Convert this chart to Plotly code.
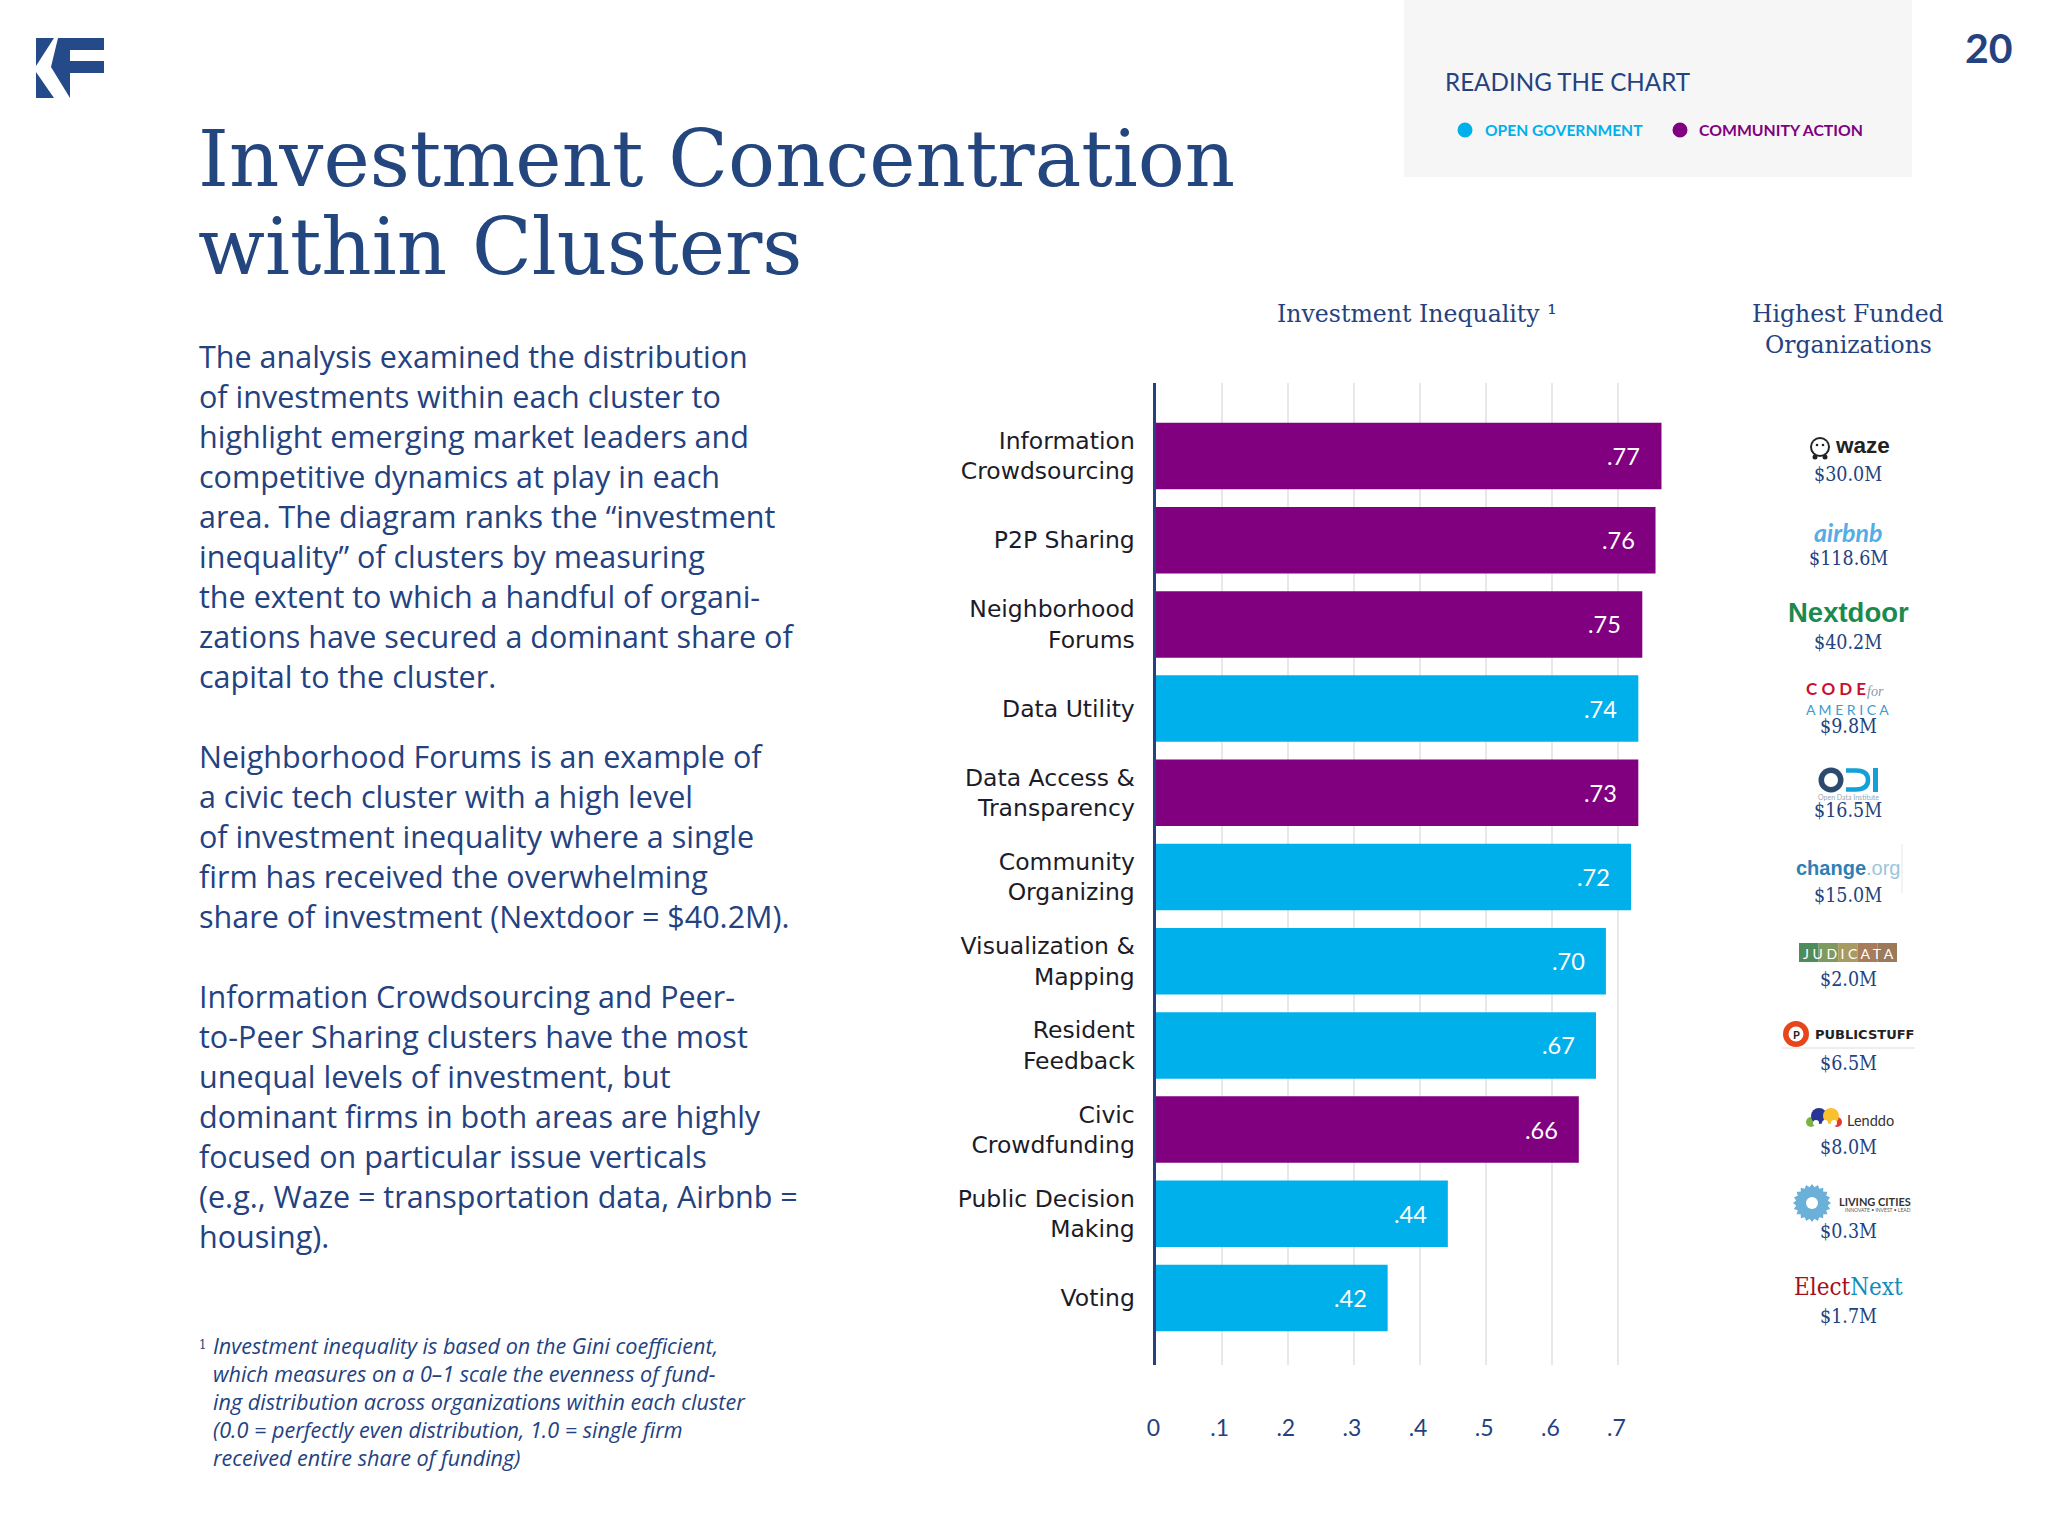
import math
import plotly.graph_objects as go

# ---------- data ----------
categories = ["Information<br>Crowdsourcing", "P2P Sharing", "Neighborhood<br>Forums", "Data Utility",
              "Data Access &<br>Transparency", "Community<br>Organizing", "Visualization &<br>Mapping",
              "Resident<br>Feedback", "Civic<br>Crowdfunding", "Public Decision<br>Making", "Voting"]
bar_lengths = [.765, .756, .736, .730, .730, .719, .681, .666, .640, .442, .351]
bar_labels = [".77", ".76", ".75", ".74", ".73", ".72", ".70", ".67", ".66", ".44", ".42"]
clusters = ["Community Action", "Community Action", "Community Action", "Open Government", "Community Action",
            "Open Government", "Open Government", "Open Government", "Community Action", "Open Government",
            "Open Government"]
funding = ["$30.0M", "$118.6M", "$40.2M", "$9.8M", "$16.5M", "$15.0M", "$2.0M", "$6.5M", "$8.0M", "$0.3M", "$1.7M"]
tick_values = [0, .1, .2, .3, .4, .5, .6, .7]
tick_labels = ["0", ".1", ".2", ".3", ".4", ".5", ".6", ".7"]

body_blocks = [
    ["The analysis examined the distribution", "of investments within each cluster to",
     "highlight emerging market leaders and", "competitive dynamics at play in each",
     "area. The diagram ranks the “investment", "inequality” of clusters by measuring",
     "the extent to which a handful of organi-", "zations have secured a dominant share of",
     "capital to the cluster."],
    ["Neighborhood Forums is an example of", "a civic tech cluster with a high level",
     "of investment inequality where a single", "firm has received the overwhelming",
     "share of investment (Nextdoor = $40.2M)."],
    ["Information Crowdsourcing and Peer-", "to-Peer Sharing clusters have the most",
     "unequal levels of investment, but", "dominant firms in both areas are highly",
     "focused on particular issue verticals", "(e.g., Waze = transportation data, Airbnb =",
     "housing)."],
]
footnote_lines = ["Investment inequality is based on the Gini coefficient,",
                  "which measures on a 0–1 scale the evenness of fund-",
                  "ing distribution across organizations within each cluster",
                  "(0.0 = perfectly even distribution, 1.0 = single firm",
                  "received entire share of funding)"]

# ---------- style ----------
W, H = 2048, 1536
NAVY = "#24427F"
CYAN = "#00B0EB"
PURPLE = "#800080"
SANS = "Lato"
WIDE = "Open Sans"
SLAB = "DejaVu Serif Condensed"
SLABW = "DejaVu Serif"
X0, PX_PER_UNIT = 1155.5, 661.4
Y_TOP, Y_BOT = 383, 1365
ROW0, ROW_STEP = 456, 84.2
X_MAX = 0.8

fx = lambda x: x / W
fy = lambda y: 1 - y / H

fig = go.Figure()
for name, color in [("Community Action", PURPLE), ("Open Government", CYAN)]:
    idx = [i for i, c in enumerate(clusters) if c == name]
    fig.add_bar(y=[categories[i] for i in idx], x=[bar_lengths[i] for i in idx], orientation="h",
                marker=dict(color=color, line_width=0), name=name, showlegend=False, width=0.79)

anns, shapes = [], []


def text(x, y, s, size, color=NAVY, family=SANS, anchor="left", **kw):
    anns.append(dict(x=fx(x), y=fy(y), xref="paper", yref="paper", text=s, showarrow=False, xanchor=anchor,
                     yanchor="middle", align=anchor, font=dict(size=size, color=color, family=family),
                     borderpad=0, **kw))


def rect(x0, y0, x1, y1, color):
    shapes.append(dict(type="rect", xref="paper", yref="paper", x0=fx(x0), x1=fx(x1), y0=fy(y0), y1=fy(y1),
                       fillcolor=color, line_width=0, layer="below"))


def circle(cx, cy, r, color):
    shapes.append(dict(type="circle", xref="paper", yref="paper", x0=fx(cx - r), x1=fx(cx + r), y0=fy(cy - r),
                       y1=fy(cy + r), fillcolor=color, line_width=0, layer="above"))


def poly(pts, color):
    path = "M " + " L ".join(f"{fx(x):.5f},{fy(y):.5f}" for x, y in pts) + " Z"
    shapes.append(dict(type="path", xref="paper", yref="paper", path=path, fillcolor=color, line_width=0))


# KF logo
LOGO = "#244A8A"
poly([(36, 38), (54, 38), (36, 66)], LOGO)
poly([(36, 72), (54, 98), (36, 98)], LOGO)
poly([(58, 38), (104, 38), (104, 50), (70, 50), (70, 61), (104, 61), (104, 73), (70, 73), (70, 98), (51, 67)], LOGO)

# title
text(197, 158, "Investment Concentration", 78.2, "#24467F", SLABW)
text(197, 247, "within Clusters", 78.2, "#24467F", SLABW)

# page number + reading panel
text(2014, 47, "<b>20</b>", 41, NAVY, anchor="right")
rect(1404, 0, 1912, 177, "#F6F6F7")
text(1444, 82, "READING THE CHART", 24.2)
circle(1465, 130, 7.5, CYAN)
text(1484, 130, "<b>OPEN GOVERNMENT</b>", 15.6, CYAN)
circle(1680, 130, 7.5, PURPLE)
text(1698, 130, "<b>COMMUNITY ACTION</b>", 15.8, PURPLE)

# body text
for block_y, block in zip([356, 756, 996], body_blocks):
    for i, line in enumerate(block):
        text(198, block_y + i * 40, line, 30.5, NAVY, WIDE)

# footnote
text(198, 1344, "1", 13, NAVY, SLAB)
for i, line in enumerate(footnote_lines):
    text(212, 1345 + i * 28, f"<i>{line}</i>", 21.6, NAVY, WIDE)

# column headings
text(1417, 314, "Investment Inequality ¹", 23.6, NAVY, SLABW, anchor="center")
text(1848, 314, "Highest Funded", 23.5, NAVY, SLABW, anchor="center")
text(1848, 345, "Organizations", 23.5, NAVY, SLABW, anchor="center")

# bar value labels
for cat, length, label in zip(categories, bar_lengths, bar_labels):
    anns.append(dict(x=length, y=cat, xref="x", yref="y", text=label, showarrow=False, xanchor="right",
                     xshift=-19, font=dict(size=23.5, color="white", family=SANS)))

# funding amounts
for i, amount in enumerate(funding):
    text(1848, ROW0 + 18 + i * ROW_STEP, amount, 19.5, NAVY, SLAB, anchor="center")

# organization logos, drawn as text and simple shapes
circle(1820, 447, 10, "#222222"); circle(1820, 447, 8, "white")
circle(1817, 445, 1.3, "#222222"); circle(1823, 445, 1.3, "#222222")
circle(1815, 457, 2.5, "#222222"); circle(1825, 457, 2.5, "#222222")
text(1834, 446, "<b>waze</b>", 22.5, "#222222", "Liberation Sans")
text(1848, 532, "<b><i>airbnb</i></b>", 25, "#55ADE6", SANS, anchor="center")
text(1848, 612, "<b>Nextdoor</b>", 27.5, "#1B8A50", "Liberation Sans", anchor="center")
text(1805, 688, "<b>C O D E</b>", 17, "#C8102E", SANS)
text(1866, 692, "<i>for</i>", 14, "#8A9AAA", "Liberation Serif")
text(1805, 709, "A M E R I C A", 14, "#3C9BD0", SANS)
circle(1831, 780, 12.5, "#2C4A6E"); circle(1831, 780, 7, "white")
shapes.append(dict(type="path", xref="paper", yref="paper",
                   path=f"M {fx(1846)},{fy(770.5)} L {fx(1856)},{fy(770.5)} Q {fx(1868)},{fy(770.5)} {fx(1868)},{fy(780)} "
                        f"Q {fx(1868)},{fy(789.5)} {fx(1856)},{fy(789.5)} L {fx(1846)},{fy(789.5)}",
                   line=dict(color="#14A0D8", width=4.5)))
rect(1873, 768, 1878, 792, "#14A0D8")
text(1848, 797, "Open Data Institute", 7, "#9AA6B2", SANS, anchor="center")
text(1848, 868, "<b>change</b><span style='color:#9CC5DD'>.org</span>", 20, "#2F7FB5", "Liberation Sans", anchor="center")
rect(1901.5, 844, 1902.5, 893, "#E4E8EC")
for k, c in enumerate(["#4E8C5E", "#7F9A60", "#A89A62", "#A67C5C", "#9B7A5C"]):
    rect(1799 + k * 19.6, 943, 1799 + (k + 1) * 19.6, 962, c)
text(1848, 953, "J U D I C A T A", 14, "white", SANS, anchor="center")
circle(1796, 1034, 13, "#E8451A"); circle(1796, 1034, 7.5, "white")
text(1796, 1034, "<b>P</b>", 11, "#222222", SANS, anchor="center")
text(1814, 1034, "<b>PUBLICSTUFF</b>", 13, "#222222", "DejaVu Sans")
rect(1782, 1047.5, 1915, 1048.5, "#DDDDDD")
for cx, cy, r, c in [(1811, 1122, 5, "#7CB342"), (1837, 1122, 5, "#E53935"), (1819, 1116, 8, "#283593"), (1831, 1116, 8, "#FBC02D")]:
    circle(cx, cy, r, c)
circle(1816, 1123, 3, "white"); circle(1825, 1123, 3, "white"); circle(1834, 1123, 3, "white")
text(1846, 1120, "Lenddo", 14.5, "#333333", SANS)
poly([(1812 + (19 if k % 2 == 0 else 16) * math.cos(k * math.pi / 20),
       1203 + (19 if k % 2 == 0 else 16) * math.sin(k * math.pi / 20)) for k in range(40)], "#6BB0D8")
circle(1812, 1203, 6, "white")
text(1838, 1201, "<b>LIVING CITIES</b>", 11, "#333333", SANS)
text(1844, 1210, "INNOVATE • INVEST • LEAD", 5, "#555555", SANS)
text(1848, 1287, "Elect<span style='color:#0F8DBE'>Next</span>", 24, "#A50F1E", SLAB, anchor="center")

y_range = [(Y_BOT - ROW0) / ROW_STEP, (Y_TOP - ROW0) / ROW_STEP]
fig.update_layout(
    width=W, height=H, autosize=False, margin=dict(l=0, r=0, t=0, b=0), paper_bgcolor="white", plot_bgcolor="white",
    barmode="overlay", annotations=anns, shapes=shapes, showlegend=False,
    xaxis=dict(domain=[fx(X0), fx(X0 + X_MAX * PX_PER_UNIT)], range=[0, X_MAX], tickvals=tick_values, ticktext=tick_labels,
               automargin=False, showgrid=True, gridcolor="#E8E8E8", gridwidth=2, zeroline=False, showline=False, ticks="",
               ticklabelstandoff=47, ticklabelshift=-2, tickfont=dict(size=23, color=NAVY, family=SANS), tickangle=0),
    yaxis=dict(domain=[fy(Y_BOT), fy(Y_TOP)], range=y_range, categoryorder="array", categoryarray=categories,
               automargin=False, type="category", tickmode="array", tickvals=categories, ticktext=categories, showgrid=False,
               zeroline=False, showline=True, linecolor="#24427F", linewidth=3, ticks="",
               ticklabelstandoff=13, tickfont=dict(size=23.5, color="#1C1C28", family="DejaVu Sans")),
)

fig.write_html("out.html", config={"displayModeBar": False},
               post_script="document.body.style.margin='0';document.body.style.overflow='hidden';")
